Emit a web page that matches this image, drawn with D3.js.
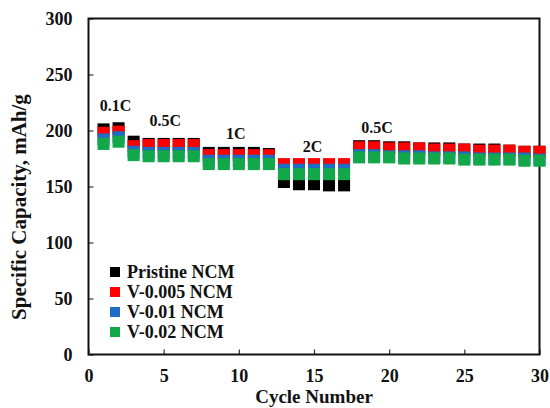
<!DOCTYPE html>
<html>
<head>
<meta charset="utf-8">
<script src="https://cdn.jsdelivr.net/npm/d3@7"></script>
<style>
  body { margin: 0; background: #fff; }
  svg { display: block; font-family: "Liberation Serif", "Times New Roman", serif; font-weight: bold; }
</style>
</head>
<body>
<svg width="550" height="408"></svg>
<script>
// Cycle numbers 1..30
var cycles = [1, 2, 3, 4, 5, 6, 7, 8, 9, 10, 11, 12, 13, 14, 15, 16, 17, 18, 19, 20, 21, 22, 23, 24, 25, 26, 27, 28, 29, 30];

// Specific capacity (mAh/g) per cycle
var pristine = [201, 202, 190, 188, 188, 188, 188, 180, 180, 180, 180, 179, 154, 152, 152, 151, 151, 186, 186, 185, 185, 184, 184, 184, 183, 183, 183, 182, 181, 181];
var v005 = [198, 199, 186, 187, 187, 187, 187, 178, 178, 178, 178, 178, 170, 170, 170, 170, 170, 185, 185, 184, 184, 184, 183, 183, 183, 182, 182, 182, 181, 181];
var v01 = [192, 194, 181, 180, 180, 180, 180, 173, 173, 173, 173, 173, 165, 165, 165, 165, 165, 178, 178, 177, 177, 177, 176, 176, 176, 175, 175, 175, 175, 174];
var v02 = [188, 190, 178, 177, 177, 177, 177, 170, 170, 170, 170, 170, 161, 161, 161, 161, 161, 176, 176, 176, 175, 175, 175, 175, 174, 174, 174, 174, 173, 173];

var seriesNames = ['Pristine NCM', 'V-0.005 NCM', 'V-0.01 NCM', 'V-0.02 NCM'];
var seriesValues = [pristine, v005, v01, v02];
var seriesColors = ['#000000', '#ff0000', '#1f6cc4', '#12a84a'];

// C-rate labels: [text, cycle, capacity]
var rateLabels = [['0.1C', 1.8, 222], ['0.5C', 5.1, 209], ['1C', 9.8, 197], ['2C', 14.9, 186], ['0.5C', 19.2, 203]];

var xTicks = [0, 5, 10, 15, 20, 25, 30];
var yTicks = [0, 50, 100, 150, 200, 250, 300];

var svg = d3.select('svg');

var margin = { top: 18.5, right: 10.5, bottom: 53.5, left: 88.5 };
var width = 550 - margin.left - margin.right;
var height = 408 - margin.top - margin.bottom;

var x = d3.scaleLinear().domain([0, 30]).range([0, width]);
var y = d3.scaleLinear().domain([0, 300]).range([height, 0]);

var g = svg.append('g')
  .attr('transform', 'translate(' + margin.left + ',' + margin.top + ')');

// Axes with inward ticks
var xAxis = g.append('g')
  .attr('transform', 'translate(0,' + height + ')')
  .call(d3.axisBottom(x).tickValues(xTicks).tickSizeInner(-5).tickSizeOuter(0).tickPadding(15));

var yAxis = g.append('g')
  .call(d3.axisLeft(y).tickValues(yTicks).tickSizeInner(-5).tickSizeOuter(0).tickPadding(16));

[xAxis, yAxis].forEach(function (a) {
  a.select('.domain').remove();
  a.selectAll('.tick line').attr('stroke', '#333').attr('stroke-width', 1.2);
  a.selectAll('.tick text')
    .attr('fill', '#111')
    .style('font-size', '18px')
    .style('font-family', '"Liberation Serif", serif')
    .style('font-weight', 'bold');
});

// Frame
g.append('rect')
  .attr('width', width)
  .attr('height', height)
  .attr('fill', 'none')
  .attr('stroke', '#111')
  .attr('stroke-width', 2);

// Markers: pristine first, V-0.02 last on top
var size = 12;
seriesValues.forEach(function (vals, i) {
  g.append('g')
    .selectAll('rect')
    .data(vals)
    .enter()
    .append('rect')
    .attr('x', function (d, j) { return x(cycles[j]) - size / 2; })
    .attr('y', function (d) { return y(d) - size / 2; })
    .attr('width', size)
    .attr('height', size)
    .attr('fill', seriesColors[i]);
});

// Rate labels
g.selectAll('.rate')
  .data(rateLabels)
  .enter()
  .append('text')
  .attr('class', 'rate')
  .attr('x', function (d) { return x(d[1]); })
  .attr('y', function (d) { return y(d[2]); })
  .attr('dy', '0.35em')
  .attr('text-anchor', 'middle')
  .style('font-size', '16px')
  .attr('fill', '#111')
  .text(function (d) { return d[0]; });

// Legend
var legend = svg.append('g')
  .attr('transform', 'translate(110,272)');

var item = legend.selectAll('g')
  .data(seriesNames)
  .enter()
  .append('g')
  .attr('transform', function (d, i) { return 'translate(0,' + i * 20 + ')'; });

item.append('rect')
  .attr('x', 0)
  .attr('y', -5)
  .attr('width', 10)
  .attr('height', 10)
  .attr('fill', function (d, i) { return seriesColors[i]; });

item.append('text')
  .attr('x', 17)
  .attr('dy', '0.35em')
  .style('font-size', '18px')
  .attr('fill', '#111')
  .text(function (d) { return d; });

// Axis titles
svg.append('text')
  .attr('x', margin.left + width / 2)
  .attr('y', 403)
  .attr('text-anchor', 'middle')
  .style('font-size', '19px')
  .attr('fill', '#111')
  .text('Cycle Number');

svg.append('text')
  .attr('transform', 'translate(26,207) rotate(-90)')
  .attr('text-anchor', 'middle')
  .style('font-size', '21px')
  .attr('fill', '#111')
  .text('Specific Capacity, mAh/g');
</script>
</body>
</html>
